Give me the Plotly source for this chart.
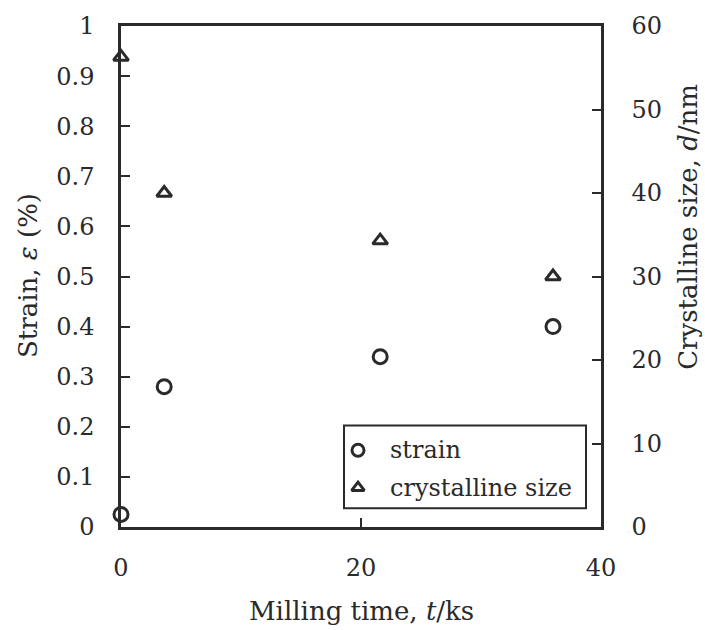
import plotly.graph_objects as go

# Milling time (ks) and the two measured quantities
milling_time = [0, 3.6, 21.6, 36]
strain_pct = [0.025, 0.28, 0.34, 0.40]
crystal_size_nm = [56.3, 40, 34.3, 30]

x_ticks = [0, 20, 40]

INK = "#2a2a2a"
FONT = "DejaVu Serif"
FS = 24

W, H = 705, 630
ML, MR, MT, MB = 121, 104, 18, 103
PW, PH = W - ML - MR, H - MT - MB


def px_x(p):
    return (p - ML) / PW


def px_y(p):
    return (H - MB - p) / PH


fig = go.Figure()

fig.add_trace(go.Scatter(
    x=milling_time, y=strain_pct, mode="markers", name="strain",
    marker=dict(symbol="circle-open", size=14, color=INK, line=dict(width=3, color=INK)),
    cliponaxis=False, showlegend=False,
))
fig.add_trace(go.Scatter(
    x=milling_time, y=crystal_size_nm, mode="markers", name="crystalline size",
    yaxis="y2",
    marker=dict(symbol="triangle-up-open", size=13, color=INK, line=dict(width=3, color=INK)),
    cliponaxis=False, showlegend=False,
))

# Legend glyphs on an invisible unit overlay axis
legend_rows = [("strain", "circle-open", 12, 449), ("crystalline size", "triangle-up-open", 11, 487)]
for label, sym, sz, py in legend_rows:
    fig.add_trace(go.Scatter(
        x=[px_x(358)], y=[px_y(py)], mode="markers", xaxis="x3", yaxis="y3",
        marker=dict(symbol=sym, size=sz, color=INK, line=dict(width=3, color=INK)),
        showlegend=False, hoverinfo="skip",
    ))
    fig.add_annotation(
        text=label, xref="paper", yref="paper", x=px_x(388), y=px_y(py),
        xanchor="left", yanchor="middle", showarrow=False,
        font=dict(family=FONT, size=FS, color=INK),
    )

fig.add_shape(
    type="rect", xref="paper", yref="paper",
    x0=px_x(344), x1=px_x(586), y0=px_y(508), y1=px_y(424),
    line=dict(color=INK, width=2), fillcolor="white", layer="below",
)

axis_common = dict(
    showgrid=False, zeroline=False, showline=True, linecolor=INK, linewidth=2.5,
    ticks="inside", ticklen=9, tickwidth=2, tickcolor=INK,
    tickfont=dict(family=FONT, size=FS, color=INK),
)

fig.update_layout(
    width=W, height=H,
    margin=dict(l=ML, r=MR, t=MT, b=MB),
    paper_bgcolor="white", plot_bgcolor="white",
    xaxis=dict(range=[0, 40], tickvals=x_ticks, mirror=True, ticklabelstandoff=17, **axis_common),
    yaxis=dict(range=[0, 1], dtick=0.1, tick0=0, ticklabelstandoff=19, **axis_common),
    yaxis2=dict(range=[0, 60], dtick=10, tick0=0, overlaying="y", side="right",
                ticklabelstandoff=23, **axis_common),
    xaxis3=dict(domain=[0, 1], range=[0, 1], overlaying="x", visible=False, anchor="y3"),
    yaxis3=dict(domain=[0, 1], range=[0, 1], overlaying="y", visible=False, anchor="x3"),
    showlegend=False,
)

title_font = dict(family=FONT, size=26, color=INK)
fig.add_annotation(text="Milling time, <i>t</i>/ks", xref="paper", yref="paper",
                   x=px_x(361), y=px_y(612), xanchor="center", yanchor="middle",
                   showarrow=False, font=title_font)
fig.add_annotation(text="Strain, <i>ε</i> (%)", xref="paper", yref="paper",
                   x=px_x(28), y=px_y(272), xanchor="center", yanchor="middle",
                   textangle=-90, showarrow=False, font=title_font)
fig.add_annotation(text="Crystalline size, <i>d</i>/nm", xref="paper", yref="paper",
                   x=px_x(688), y=px_y(222), xanchor="center", yanchor="middle",
                   textangle=-90, showarrow=False, font=title_font)

fig.write_html("out.html")
